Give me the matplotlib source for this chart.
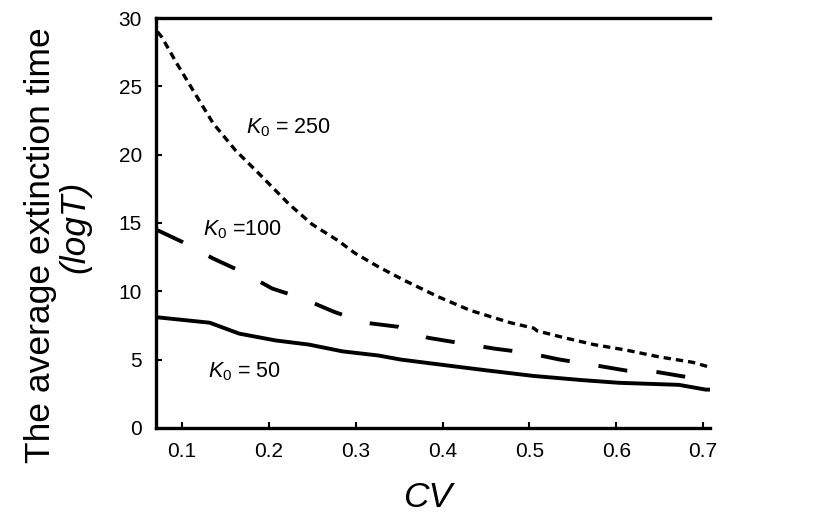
import numpy as np
import matplotlib
matplotlib.use("Agg")
import matplotlib.pyplot as plt

plt.rcParams["font.family"] = ["Liberation Sans", "DejaVu Sans"]
plt.rcParams["mathtext.fontset"] = "custom"
plt.rcParams["mathtext.it"] = "Liberation Sans:italic"
plt.rcParams["mathtext.rm"] = "Liberation Sans"

# ── data ───────────────────────────────────────────────────
cv_250 = [0.072, 0.077, 0.094, 0.113, 0.136, 0.162, 0.189, 0.223, 0.250, 0.280,
          0.299, 0.326, 0.356, 0.395, 0.432, 0.478, 0.505, 0.509, 0.540,
          0.574, 0.611, 0.649, 0.688, 0.710]
t_250 = [29.0, 28.6, 26.7, 24.7, 22.3, 20.3, 18.6, 16.4, 14.9, 13.7,
         12.8, 11.8, 10.8, 9.6, 8.6, 7.7, 7.3, 7.1, 6.6,
         6.1, 5.7, 5.2, 4.8, 4.4]

cv_100 = [0.071, 0.101, 0.136, 0.170, 0.204, 0.238, 0.275, 0.311, 0.349,
          0.383, 0.421, 0.460, 0.497, 0.535, 0.574, 0.611, 0.646, 0.688, 0.710]
t_100 = [14.5, 13.6, 12.4, 11.4, 10.2, 9.5, 8.5, 7.7, 7.4,
         6.6, 6.2, 5.8, 5.5, 5.0, 4.6, 4.2, 4.1, 3.65, 3.4]

cv_50 = [0.071, 0.132, 0.166, 0.208, 0.246, 0.285, 0.326, 0.352, 0.414,
         0.452, 0.505, 0.560, 0.603, 0.672, 0.703, 0.710]
t_50 = [8.1, 7.7, 6.9, 6.4, 6.1, 5.6, 5.3, 5.0, 4.5,
        4.2, 3.8, 3.5, 3.3, 3.15, 2.8, 2.8]

xticks = [0.1, 0.2, 0.3, 0.4, 0.5, 0.6, 0.7]
yticks = [0, 5, 10, 15, 20, 25, 30]

# ── figure ─────────────────────────────────────────────────
fig = plt.figure(figsize=(8.2, 5.18), dpi=100)
ax = fig.add_axes([0.190, 0.174, 0.676, 0.791])

ax.plot(cv_250, t_250, color="black", linewidth=2.4, dashes=(2.2, 1.5))
ax.plot(cv_100, t_100, color="black", linewidth=2.8, dashes=(7.5, 7.5))
ax.plot(cv_50, t_50, color="black", linewidth=2.8, solid_capstyle="butt")

ax.set_xlim(0.070, 0.708)
ax.set_ylim(0, 30)
ax.set_xticks(xticks)
ax.set_yticks(yticks)
ax.set_xticklabels([f"{v:.1f}" for v in xticks])
ax.tick_params(direction="in", length=4, width=1.5, labelsize=15, pad=10)

for side in ["left", "bottom", "top"]:
    ax.spines[side].set_linewidth(2.4)
ax.spines["right"].set_visible(False)

# curve annotations
ax.text(0.174, 22.0, r"$K_{\mathit{0}}$ = 250", fontsize=15.5, va="center", ha="left")
ax.text(0.124, 14.5, r"$K_{\mathit{0}}$ =100", fontsize=15.5, va="center", ha="left")
ax.text(0.130, 4.1, r"$K_{\mathit{0}}$ = 50", fontsize=15.5, va="center", ha="left")

# axis titles
fig.text(0.049, 0.527, "The average extinction time", rotation=90,
         fontsize=25.5, ha="center", va="center")
fig.text(0.0915, 0.562, "(logT)", rotation=90, style="italic",
         fontsize=25.5, ha="center", va="center")
fig.text(0.521, 0.022, "CV", style="italic", fontsize=25.5,
         ha="center", va="baseline")

fig.savefig("out.png", dpi=100)
plt.close(fig)
